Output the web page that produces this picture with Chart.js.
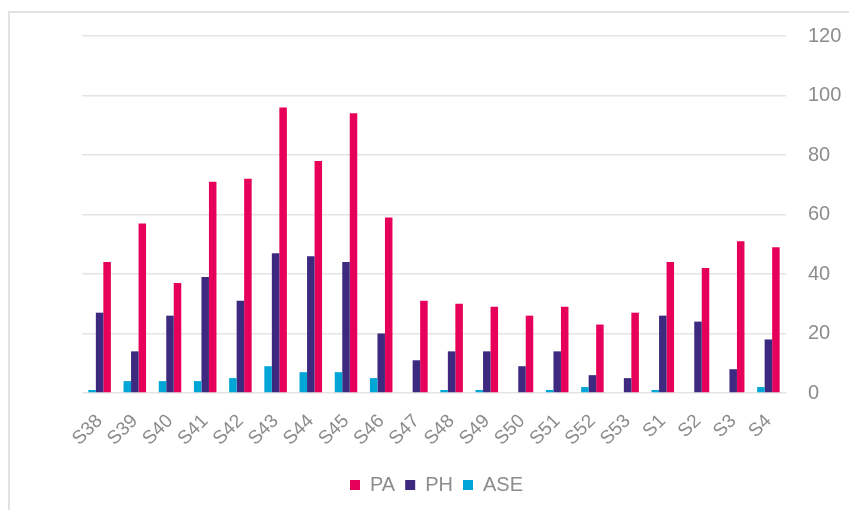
<!DOCTYPE html>
<html>
<head>
<meta charset="utf-8">
<script src="https://cdn.jsdelivr.net/npm/chart.js@4.4.1/dist/chart.umd.min.js"></script>
<style>
    html, body { margin: 0; padding: 0; background: #fff; }
    #frame {
        position: absolute; left: 8px; top: 11px; width: 900px; height: 560px;
        border-left: 2px solid #e2e2e2; border-top: 2px solid #e2e2e2;
    }
    #wrap { position: absolute; left: 0; top: 0; width: 849px; height: 510px; }
</style>
</head>
<body>
<div id="frame"></div>
<div id="wrap"><canvas id="barChart" width="849" height="510"></canvas></div>
<script>
// semaines
const weeks = ['S38', 'S39', 'S40', 'S41', 'S42', 'S43', 'S44', 'S45', 'S46', 'S47',
               'S48', 'S49', 'S50', 'S51', 'S52', 'S53', 'S1', 'S2', 'S3', 'S4'];
const paValues  = [44, 57, 37, 71, 72, 96, 78, 94, 59, 31, 30, 29, 26, 29, 23, 27, 44, 42, 51, 49];
const phValues  = [27, 14, 26, 39, 31, 47, 46, 44, 20, 11, 14, 14, 9, 14, 6, 5, 26, 24, 8, 18];
const aseValues = [1, 4, 4, 4, 5, 9, 7, 7, 5, 0, 1, 1, 0, 1, 2, 0, 1, 0, 0, 2];
const yTicks = [0, 20, 40, 60, 80, 100, 120];

const tickGrey = '#8c8c8c';
const font = 'Liberation Sans, Arial, sans-serif';

const ctx = document.getElementById('barChart').getContext('2d');
new Chart(ctx, {
    type: 'bar',
    data: {
        labels: weeks,
        // bars drawn ASE, PH, PA; legend reversed to PA, PH, ASE
        datasets: [
            { label: 'ASE', data: aseValues, backgroundColor: '#00a6d6' },
            { label: 'PH', data: phValues, backgroundColor: '#3d2a80' },
            { label: 'PA', data: paValues, backgroundColor: '#e6005a' },
        ]
    },
    options: {
        responsive: false,
        animation: false,
        devicePixelRatio: 1,
        categoryPercentage: 0.64,
        barPercentage: 1,
        // small left padding so the legend centres like the original,
        // plot left edge is pushed to 82px by the x scale padding below
        layout: { padding: { left: 24, top: 36, right: 0, bottom: 5 } },
        plugins: {
            tooltip: { enabled: false },
            legend: {
                position: 'bottom',
                reverse: true,
                labels: {
                    boxWidth: 10, boxHeight: 10, padding: 10,
                    color: tickGrey,
                    font: { family: font, size: 20 }
                }
            }
        },
        scales: {
            x: {
                grid: { display: false },
                border: { display: false },
                ticks: {
                    color: tickGrey, minRotation: 45, maxRotation: 45, padding: 9,
                    font: { family: font, size: 19 }
                },
                afterFit: s => { s.height = 72; s.paddingLeft = 82; }
            },
            y: {
                position: 'right',
                min: 0, max: 120,
                afterBuildTicks: s => { s.ticks = yTicks.map(v => ({ value: v })); },
                grid: { color: '#e4e4e4', lineWidth: 1.5, drawTicks: false },
                border: { display: false },
                ticks: {
                    color: tickGrey, padding: 22,
                    font: { family: font, size: 20 }
                },
                afterFit: s => { s.width = 63; }
            }
        }
    }
});
</script>
</body>
</html>
